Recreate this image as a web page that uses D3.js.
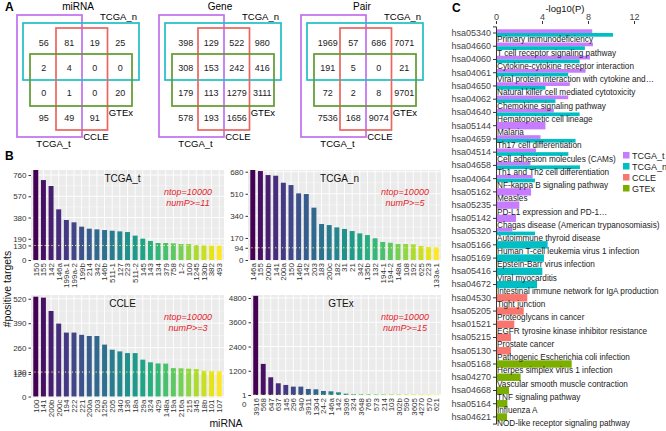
<!DOCTYPE html>
<html><head><meta charset="utf-8">
<script src="https://cdn.jsdelivr.net/npm/d3@7"></script>
<style>
body{margin:0;background:#fff}
svg{font-family:"Liberation Sans",Arial,Helvetica,sans-serif}
</style>
</head><body>
<svg id="c" width="666" height="431"></svg>
<script>
// ================= DATA =================
// Panel A – Venn counts (rows x columns of the 4-set grid)
const vennTitles = ["miRNA", "Gene", "Pair"];
const vennSets = ["TCGA_t", "TCGA_n", "CCLE", "GTEx"];
const vennMiRNA = [[56, 81, 19, 25], [2, 4, 0, 0], [0, 1, 0, 20], [95, 49, 91, null]];
const vennGene  = [[398, 129, 522, 980], [308, 153, 242, 416], [179, 113, 1279, 3111], [578, 193, 1656, null]];
const vennPair  = [[1969, 57, 686, 7071], [191, 5, 0, 21], [72, 2, 8, 9701], [7536, 168, 9074, null]];
// set membership in the grid (columns / rows spanned)
const setCols = {TCGA_t: [0, 1], TCGA_n: [0, 3], CCLE: [1, 2], GTEx: [0, 3]};
const setRows = {TCGA_t: [0, 3], TCGA_n: [0, 1], CCLE: [0, 3], GTEx: [1, 2]};

// Panel B – top miRNAs by number of positive targets
const tcgaT_mirna = ["150","155","142","146a","199a-1","199a-2","199b","214","342","146b","511-1","127","223","511-2","145","143","134","379","758","1-2","100","1245","130b","382","493"];
const tcgaT_count = [805,715,662,453,358,337,298,280,274,268,262,256,250,218,191,170,152,152,149,143,143,134,131,128,128];
const tcgaT_ticks = [0,130,190,380,570,760];
const tcgaT_thr = 130, tcgaT_numP = 11;

const tcgaN_mirna = ["146a","155","200b","141","200a","150","146b","142","203","183","200c","182","31","21","342","135b","132","194-1","194-2","148a","108","192","625","223","133a-1"];
const tcgaN_count = [693,685,654,649,595,577,513,508,403,277,269,251,239,223,205,192,167,139,133,123,123,121,108,100,98];
const tcgaN_ticks = [0,94,170,340,510,680];
const tcgaN_thr = 94, tcgaN_numP = 5;

const ccle_mirna = ["100","141","200b","200c","194","222","221","200a","203","125b","205","340","136","18a","29a","324","429","148a","19a","216a","215","345","18b","101","107"];
const ccle_count = [531,526,455,388,340,340,328,322,322,276,249,240,231,231,196,182,176,175,151,150,148,146,137,135,135];
const ccle_ticks = [0,120,130,260,390,520];
const ccle_thr = 130, ccle_numP = 3;

const gtex_mirna = ["3916","568","647","637","145","296","940","3911","1304","24-2","146a","142","3936","324","3648","765","573","214","103","302b","590","3605","4270","570","621"];
const gtex_count = [4910,1540,877,580,497,414,414,298,282,199,182,132,66,33,30,28,27,26,25,24,23,22,21,20,19];
const gtex_ticks = [0,1,1200,2400,3600,4800];
const gtex_thr = 1, gtex_numP = 15;
const ntop = 10000;

// Panel C – KEGG enrichment, -log10(P)
const pathIds = ["hsa05340","hsa04660","hsa04060","hsa04061","hsa04650","hsa04062","hsa04640","hsa05144","hsa04659","hsa04514","hsa04658","hsa04064","hsa05162","hsa05235","hsa05142","hsa05320","hsa05166","hsa05169","hsa05416","hsa04672","hsa04530","hsa05205","hsa01521","hsa05215","hsa05130","hsa05168","hsa04270","hsa04668","hsa05164","hsa04621"];
const pathNames = ["Primary immunodeficiency","T cell receptor signaling pathway","Cytokine-cytokine receptor interaction","Viral protein interaction with cytokine and\u2026","Natural killer cell mediated cytotoxicity","Chemokine signaling pathway","Hematopoietic cell lineage","Malaria","Th17 cell differentiation","Cell adhesion molecules (CAMs)","Th1 and Th2 cell differentiation","NF-kappa B signaling pathway","Measles","PD-L1 expression and PD-1\u2026","Chagas disease (American trypanosomiasis)","Autoimmune thyroid disease","Human T-cell leukemia virus 1 infection","Epstein-Barr virus infection","Viral myocarditis","Intestinal immune network for IgA production","Tight junction","Proteoglycans in cancer","EGFR tyrosine kinase inhibitor resistance","Prostate cancer","Pathogenic Escherichia coli infection","Herpes simplex virus 1 infection","Vascular smooth muscle contraction","TNF signaling pathway","Influenza A","NOD-like receptor signaling pathway"];
const logP_TCGA_t = [8.37,8.43,8.17,7.79,6.42,6.28,5.03,4.30,3.87,3.48,3.0,3.19,3.05,2.03,1.74,1.42,null,null,null,null,null,null,null,null,null,null,null,null,null,null];
const logP_TCGA_n = [10.17,7.73,7.27,6.28,4.30,5.17,7.27,null,6.92,6.29,7.30,3.39,null,null,null,3.39,4.49,4.17,4.03,3.57,null,null,null,null,null,null,null,null,null,null];
const logP_CCLE   = [null,null,null,null,null,null,null,null,null,null,null,null,null,null,null,null,null,null,null,null,2.72,2.41,1.59,1.30,1.30,null,null,null,null,null];
const logP_GTEx   = [null,null,null,null,null,null,null,null,null,null,null,null,null,null,null,null,null,null,null,null,null,null,null,null,null,6.58,2.14,1.13,0.99,0.96];
const logP_ticks = [0,4,8,12];

// ================= DRAW =================
const svg = d3.select("#c");
const setColor = {TCGA_t: "#c070f0", TCGA_n: "#1fbfc6", CCLE: "#ea6660", GTEx: "#5f9a2e"};
const legendColor = {TCGA_t: "#c77cff", TCGA_n: "#00bfc4", CCLE: "#f8766d", GTEx: "#7cae00"};

function letter(t, x, y) {
  svg.append("text").attr("x", x).attr("y", y).text(t)
    .style("font-weight", "bold").style("font-size", "12px").attr("fill", "#000");
}
letter("A", 5, 11); letter("B", 5, 160); letter("C", 452, 12);

// ---------- Panel A ----------
const colBand = d3.scaleBand().domain(d3.range(4)).range([31, 133]);
const rowBand = d3.scaleBand().domain(d3.range(4)).range([30.5, 130.5]);
const setPad = {TCGA_t: [14, 0, 15.5, 6.5], TCGA_n: [8, 6, 7.5, -0.5], CCLE: [0.5, 0, 2.5, -0.5], GTEx: [1, -1, 1.5, 0.5]};
const vennAll = [vennMiRNA, vennGene, vennPair];
vennAll.forEach((grid, vi) => {
  const g = svg.append("g").attr("transform", `translate(${vi * 142},0)`);
  const rect = {};
  vennSets.forEach(s => {
    const p = setPad[s];
    const x0 = colBand(setCols[s][0]) - p[0];
    const x1 = colBand(setCols[s][1]) + colBand.bandwidth() + p[1];
    const y0 = rowBand(setRows[s][0]) - p[2];
    const y1 = rowBand(setRows[s][1]) + rowBand.bandwidth() + p[3];
    rect[s] = {x0, x1, y0, y1};
    g.append("rect").attr("x", x0).attr("y", y0).attr("width", x1 - x0).attr("height", y1 - y0)
      .attr("fill", "none").attr("stroke", setColor[s]).attr("stroke-width", 1.7);
  });
  grid.forEach((row, r) => row.forEach((v, c) => {
    if (v === null) return;
    g.append("text").attr("x", colBand(c) + colBand.bandwidth() / 2).attr("y", rowBand(r) + rowBand.bandwidth() / 2)
      .attr("dy", "0.36em").attr("text-anchor", "middle").style("font-size", "9px").attr("fill", "#222").text(v);
  }));
  g.append("text").attr("x", 78).attr("y", 10).attr("text-anchor", "middle").style("font-size", "10px").text(vennTitles[vi]);
  g.append("text").attr("x", rect.TCGA_n.x1 - 2).attr("y", rect.TCGA_n.y0 - 3).attr("text-anchor", "end").style("font-size", "9.5px").text("TCGA_n");
  g.append("text").attr("x", rect.GTEx.x1 + 1).attr("y", rect.GTEx.y1 + 9.5).attr("text-anchor", "end").style("font-size", "9.5px").text("GTEx");
  g.append("text").attr("x", rect.CCLE.x1 + 1).attr("y", rect.CCLE.y1 + 9.5).attr("text-anchor", "end").style("font-size", "9.5px").text("CCLE");
  g.append("text").attr("x", (rect.TCGA_t.x0 + rect.TCGA_t.x1) / 2 + 4).attr("y", rect.TCGA_t.y1 + 9.5).attr("text-anchor", "middle").style("font-size", "9.5px").text("TCGA_t");
});

// ---------- Panel B ----------
function barPanel(cfg) {
  const g = svg.append("g");
  const x = d3.scaleBand().domain(cfg.names).range([cfg.x0, cfg.x1]).paddingInner(0.35).paddingOuter(0.3);
  const y = d3.scaleLinear().domain([0, cfg.ymax]).range([cfg.yb, cfg.yt]);
  g.append("rect").attr("x", cfg.x0).attr("y", cfg.yt).attr("width", cfg.x1 - cfg.x0).attr("height", cfg.yb - cfg.yt + 1).attr("fill", "#ebebeb");
  const tk = cfg.ticks.slice().sort((a, b) => a - b);
  const minor = [];
  for (let i = 0; i < tk.length - 1; i++) minor.push((tk[i] + tk[i + 1]) / 2);
  g.selectAll(".mn").data(minor).join("line").attr("x1", cfg.x0).attr("x2", cfg.x1)
    .attr("y1", d => y(d)).attr("y2", d => y(d)).attr("stroke", "#fff").attr("stroke-width", 0.4);
  g.selectAll(".mj").data(tk).join("line").attr("x1", cfg.x0).attr("x2", cfg.x1)
    .attr("y1", d => y(d)).attr("y2", d => y(d)).attr("stroke", "#fff").attr("stroke-width", 0.9);
  g.selectAll(".vg").data(cfg.names).join("line").attr("y1", cfg.yt).attr("y2", cfg.yb + 1)
    .attr("x1", d => x(d) + x.bandwidth() / 2).attr("x2", d => x(d) + x.bandwidth() / 2).attr("stroke", "#fff").attr("stroke-width", 0.9);
  const n = cfg.names.length;
  g.selectAll(".bar").data(cfg.values).join("rect")
    .attr("x", (d, i) => x(cfg.names[i])).attr("width", x.bandwidth())
    .attr("y", d => y(d)).attr("height", d => y(0) - y(d))
    .attr("fill", (d, i) => d3.interpolateViridis(i / (n - 1)));
  g.append("line").attr("x1", cfg.x0).attr("x2", cfg.x1).attr("y1", y(cfg.thr)).attr("y2", y(cfg.thr))
    .attr("stroke", "#f3f39a").attr("stroke-width", 1).attr("stroke-dasharray", "1.2,2.2");
  const ax = g.append("g").attr("transform", `translate(${cfg.x0},0)`)
    .call(d3.axisLeft(y).tickValues(cfg.ticks).tickSize(2.5).tickPadding(2).tickFormat(d3.format("d")));
  ax.select(".domain").remove();
  ax.selectAll("line").attr("stroke", "#333");
  ax.selectAll("text").style("font-size", "8px").attr("fill", "#333").style("font-family", "Liberation Sans,Arial,sans-serif");
  if (cfg.zeroShift) ax.selectAll(".tick").filter(d => d === 0).select("text").attr("dy", "1.45em");
  g.selectAll(".xl").data(cfg.names).join("text")
    .attr("transform", d => `translate(${x(d) + x.bandwidth() / 2},${cfg.yb + 3}) rotate(-90)`)
    .attr("dy", "0.36em").attr("text-anchor", "end").style("font-size", "8px").attr("fill", "#333").text(d => d);
  g.append("text").attr("x", (cfg.x0 + cfg.x1) / 2 - 5).attr("y", cfg.yt + 11.5).attr("text-anchor", "middle")
    .style("font-size", "10px").attr("fill", "#111").text(cfg.title);
  g.append("text").attr("x", cfg.x1 - 36).attr("y", cfg.yt + 24.5).attr("text-anchor", "middle")
    .style("font-size", "9px").style("font-style", "italic").attr("fill", "#e3242b").text("ntop=" + ntop);
  g.append("text").attr("x", cfg.x1 - 36).attr("y", cfg.yt + 35.5).attr("text-anchor", "middle")
    .style("font-size", "9px").style("font-style", "italic").attr("fill", "#e3242b").text("numP>=" + cfg.numP);
}
barPanel({names: tcgaT_mirna, values: tcgaT_count, ticks: tcgaT_ticks, thr: tcgaT_thr, numP: tcgaT_numP, title: "TCGA_t", x0: 31, x1: 224, yt: 170, yb: 260, ymax: 805});
barPanel({names: tcgaN_mirna, values: tcgaN_count, ticks: tcgaN_ticks, thr: tcgaN_thr, numP: tcgaN_numP, title: "TCGA_n", x0: 248, x1: 441, yt: 170, yb: 260, ymax: 693});
barPanel({names: ccle_mirna, values: ccle_count, ticks: ccle_ticks, thr: ccle_thr, numP: ccle_numP, title: "CCLE", x0: 31, x1: 224, yt: 295, yb: 396.5, ymax: 540});
barPanel({names: gtex_mirna, values: gtex_count, ticks: gtex_ticks, thr: gtex_thr, numP: gtex_numP, title: "GTEx", x0: 251, x1: 441, yt: 295, yb: 395, ymax: 4950, zeroShift: true});
svg.append("text").attr("transform", "translate(11,289) rotate(-90)").attr("text-anchor", "middle")
  .style("font-size", "10.5px").attr("fill", "#111").text("#positive targets");
svg.append("text").attr("x", 226).attr("y", 427).attr("text-anchor", "middle").style("font-size", "10.5px").attr("fill", "#111").text("miRNA");

// ---------- Panel C ----------
const gc = svg.append("g");
const xc = d3.scaleLinear().domain([0, 12]).range([496, 634]);
const yc = d3.scaleBand().domain(pathIds).range([26.38, 423.58]).paddingInner(0.44).paddingOuter(0.22);
const series = [["TCGA_t", logP_TCGA_t], ["TCGA_n", logP_TCGA_n], ["CCLE", logP_CCLE], ["GTEx", logP_GTEx]];
pathIds.forEach((id, i) => {
  const present = series.filter(s => s[1][i] !== null);
  const sub = d3.scaleBand().domain(present.map(s => s[0])).range([yc(id), yc(id) + yc.bandwidth()]);
  present.forEach(s => {
    gc.append("rect").attr("x", xc(0)).attr("y", sub(s[0])).attr("width", xc(s[1][i]) - xc(0)).attr("height", sub.bandwidth())
      .attr("fill", legendColor[s[0]]);
  });
});
gc.selectAll(".pn").data(pathNames).join("text")
  .attr("x", xc(0) + 1).attr("y", (d, i) => yc(pathIds[i]) + yc.bandwidth() / 2 + 9.4)
  .style("font-size", "8.2px").attr("fill", "#1a1a1a").text(d => d);
const axL = gc.append("g").attr("transform", `translate(${xc(0)},0)`).call(d3.axisLeft(yc).tickSize(3).tickPadding(2));
axL.select(".domain").attr("stroke", "#333");
axL.selectAll("line").attr("stroke", "#333");
axL.selectAll("text").style("font-size", "9px").attr("fill", "#444").style("font-family", "Liberation Sans,Arial,sans-serif");
const axT = gc.append("g").attr("transform", "translate(0,24)").call(d3.axisTop(xc).tickValues(logP_ticks).tickSize(3).tickPadding(1.5));
axT.select(".domain").remove();
axT.selectAll("line").attr("stroke", "#333");
axT.selectAll("text").style("font-size", "9px").attr("fill", "#444").style("font-family", "Liberation Sans,Arial,sans-serif");
gc.append("text").attr("x", 565).attr("y", 12).attr("text-anchor", "middle").style("font-size", "9.5px").attr("fill", "#111").text("-log10(P)");
// legend
const lg = gc.append("g").attr("transform", "translate(623,152)");
vennSets.forEach((s, i) => {
  lg.append("rect").attr("x", 0).attr("y", i * 11).attr("width", 6.5).attr("height", 6.5).attr("fill", legendColor[s]);
  lg.append("text").attr("x", 9).attr("y", i * 11 + 3.3).attr("dy", "0.36em").style("font-size", "9px").attr("fill", "#222").text(s);
});
</script>
</body></html>
